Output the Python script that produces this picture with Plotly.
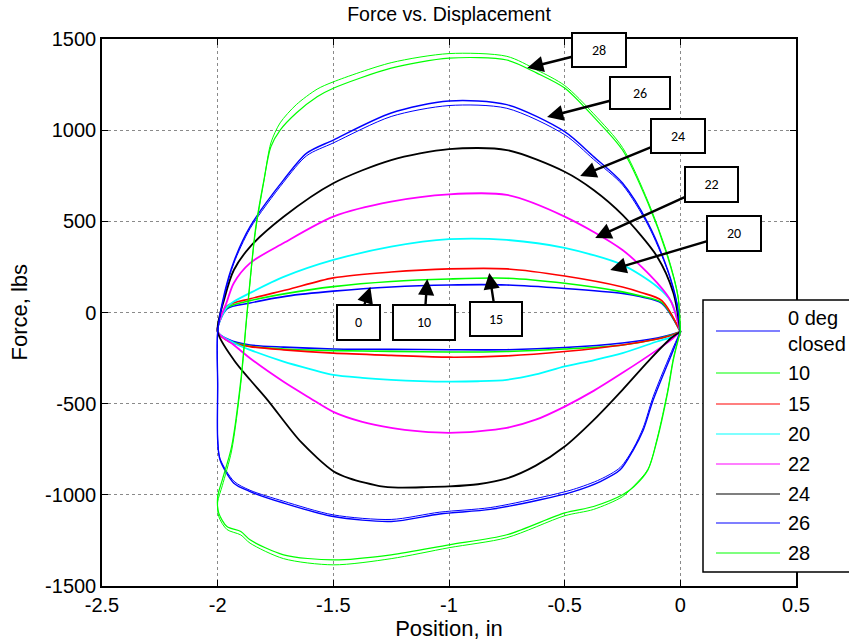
import plotly.graph_objects as go

# ---------------------------------------------------------------------------
# Force-displacement loops (position in inches, force in lbs)
# Each loop: loading branch (left -> right) then return branch (right -> left)
# ---------------------------------------------------------------------------
series_names = ["0 deg<br>closed", "10", "15", "20", "22", "24", "26", "28"]
series_colors = ["#0000ff", "#00ff00", "#ff0000", "#00ffff",
                 "#ff00ff", "#000000", "#0000ff", "#00ff00"]

pos_up_small = [-2, -1.96, -1.86, -1.7, -1.5, -1.25, -1, -0.75, -0.5, -0.25, -0.17, -0.08, 0]
pos_dn_small = [0, -0.05, -0.1, -0.25, -0.5, -0.75, -1, -1.25, -1.5, -1.715, -1.86, -1.95, -2]

force_up_0 = [-105, 20, 52, 90, 117, 140, 151, 151, 132, 105, 86, 50, -105]
force_dn_0 = [-105, -125, -140, -167, -192, -204, -204, -202, -200, -190, -178, -150, -105]
force_up_10 = [-105, 25, 65, 105, 142, 170, 184, 188, 160, 113, 90, 55, -105]
force_dn_10 = [-105, -128, -145, -178, -200, -214, -217, -213, -209, -200, -185, -155, -105]
force_up_15 = [-105, 35, 75, 125, 190, 222, 239, 239, 200, 140, 110, 65, -105]
force_dn_15 = [-105, -130, -145, -178, -214, -238, -245, -235, -223, -205, -187, -160, -105]

pos_up_mid = [-2, -1.96, -1.93, -1.86, -1.715, -1.5, -1.25, -1, -0.75, -0.5, -0.25, -0.1, -0.04, 0]
force_up_20 = [-105, 30, 60, 107, 195, 288, 361, 402, 398, 354, 261, 141, 60, -105]
force_up_22 = [-105, 60, 162, 271, 381, 526, 608, 648, 645, 526, 343, 162, 60, -105]

pos_dn_mid = [0, -0.04, -0.1, -0.25, -0.375, -0.5, -0.625, -0.75, -0.875, -1, -1.125, -1.25, -1.375, -1.5, -1.6, -1.715, -1.86, -1.93, -2]
force_dn_20 = [-105, -135, -159, -223, -262, -296, -340, -369, -377, -379, -376, -369, -358, -342, -310, -269, -205, -167, -105]
force_dn_22 = [-105, -150, -205, -331, -430, -516, -588, -633, -652, -660, -652, -633, -600, -545, -470, -380, -251, -178, -105]

pos_up_24 = [-2, -1.97, -1.93, -1.86, -1.715, -1.5, -1.25, -1, -0.75, -0.5, -0.375, -0.25, -0.1, -0.03, 0]
force_up_24 = [-105, 80, 233, 360, 525, 709, 836, 896, 891, 772, 672, 535, 306, 107, -105]
pos_dn_24 = [0, -0.04, -0.14, -0.25, -0.375, -0.5, -0.625, -0.75, -0.875, -1, -1.1, -1.22, -1.3, -1.36, -1.43, -1.5, -1.64, -1.785, -1.86, -1.93, -2]
force_dn_24 = [-105, -140, -269, -424, -590, -735, -840, -910, -942, -954, -958, -960, -952, -935, -910, -870, -710, -479, -369, -260, -105]

pos_up_26 = [-2, -1.97, -1.93, -1.86, -1.715, -1.615, -1.5, -1.25, -1, -0.75, -0.5, -0.375, -0.25, -0.14, -0.055, -0.015, 0]
force_up_26 = [-105, 110, 280, 471, 727, 874, 946, 1094, 1160, 1140, 992, 855, 710, 490, 234, 53, -105]
force_up_26b = [-105, 100, 270, 460, 715, 860, 930, 1075, 1135, 1120, 975, 840, 700, 480, 230, 50, -105]
pos_dn_26 = [0, -0.03, -0.117, -0.16, -0.203, -0.26, -0.346, -0.462, -0.606, -0.822, -1.04, -1.25, -1.5, -1.715, -1.86, -1.93, -1.99, -2, -2, -2]
force_dn_26 = [-105, -205, -479, -644, -753, -863, -927, -982, -1027, -1080, -1105, -1146, -1119, -1045, -982, -936, -808, -700, -400, -105]
force_dn_26b = [-105, -190, -460, -630, -745, -850, -915, -970, -1015, -1070, -1095, -1135, -1110, -1035, -975, -925, -800, -690, -400, -105]

pos_up_28 = [-2.0, -1.98, -1.94, -1.90, -1.873, -1.837, -1.80, -1.77, -1.73, -1.66, -1.57, -1.5, -1.25, -1, -0.75, -0.62, -0.5, -0.375, -0.25, -0.14, -0.055, -0.01, 0]
force_up_28 = [-1010, -918, -737, -371, 0, 453, 727, 909, 1000, 1094, 1183, 1230, 1340, 1395, 1385, 1313, 1231, 1073, 891, 600, 306, 86, -105]
force_up_28b = [-1040, -950, -760, -390, -10, 440, 720, 930, 1040, 1140, 1225, 1265, 1370, 1420, 1405, 1330, 1245, 1090, 905, 610, 315, 90, -105]
pos_dn_28 = [0, -0.03, -0.055, -0.1, -0.14, -0.2, -0.25, -0.375, -0.5, -0.75, -1, -1.25, -1.5, -1.715, -1.86, -1.9, -1.96, -1.995, -2.0]
force_dn_28 = [-105, -260, -441, -698, -863, -954, -1000, -1064, -1099, -1219, -1274, -1329, -1357, -1329, -1247, -1201, -1174, -1100, -1010]
force_dn_28b = [-105, -250, -430, -690, -860, -950, -1010, -1080, -1115, -1235, -1290, -1350, -1384, -1350, -1265, -1220, -1190, -1120, -1040]

# (series index, loading x, loading y, return x, return y, line width)
loops = [
    (0, pos_up_small, force_up_0, pos_dn_small, force_dn_0, 1.6),
    (1, pos_up_small, force_up_10, pos_dn_small, force_dn_10, 1.6),
    (2, pos_up_small, force_up_15, pos_dn_small, force_dn_15, 1.6),
    (3, pos_up_mid, force_up_20, pos_dn_mid, force_dn_20, 1.8),
    (4, pos_up_mid, force_up_22, pos_dn_mid, force_dn_22, 1.8),
    (5, pos_up_24, force_up_24, pos_dn_24, force_dn_24, 1.8),
    (6, pos_up_26, force_up_26, pos_dn_26, force_dn_26, 1.4),
    (6, pos_up_26, force_up_26b, pos_dn_26, force_dn_26b, 1.0),
    (7, pos_up_28, force_up_28, pos_dn_28, force_dn_28, 1.2),
    (7, pos_up_28, force_up_28b, pos_dn_28, force_dn_28b, 1.0),
]

x_tick_vals = [-2.5, -2, -1.5, -1, -0.5, 0, 0.5]
x_tick_text = ["-2.5", "-2", "-1.5", "-1", "-0.5", "0", "0.5"]
y_tick_vals = [-1500, -1000, -500, 0, 500, 1000, 1500]
y_tick_text = ["-1500", "-1000", "-500", "0", "500", "1000", "1500"]

# Call-out boxes: label, arrow tip (x, y), box offset in px (dx, dy), box size (w, h)
callouts = [
    ("28", -0.662, 1341, 72, -18, 52, 32),
    ("26", -0.576, 1072, 93, -24, 58, 30),
    ("24", -0.433, 748, 98, -40, 52, 32),
    ("22", -0.368, 409, 116, -53, 51, 33),
    ("20", -0.303, 233, 124, -37, 52, 33),
    ("0", -1.34, 140, -12, 36, 41, 33),
    ("10", -1.094, 184, -3, 44, 60, 33),
    ("15", -0.826, 217, 7, 46, 50, 32),
]

W, H = 849, 642
ML, MR, MT, MB = 102, 53, 39, 56
PW, PH = W - ML - MR, H - MT - MB
FONT = "Liberation Sans, Arial, sans-serif"


def px_to_paper_x(px):
    return (px - ML) / PW


def py_to_paper_y(py):
    return (H - MB - py) / PH


fig = go.Figure()
for idx, ux, uy, dx_, dy_, lw in loops:
    fig.add_trace(go.Scatter(
        x=ux + dx_, y=uy + dy_, mode="lines",
        line=dict(color=series_colors[idx], width=lw, shape="spline", smoothing=0.8),
        showlegend=False, hoverinfo="skip",
    ))

annotations = []
for label, tx, ty, ox, oy, bw, bh in callouts:
    annotations.append(dict(
        x=tx, y=ty, xref="x", yref="y", ax=ox, ay=oy,
        text=label, showarrow=True, arrowhead=2, arrowsize=1.35, arrowwidth=2.4,
        arrowcolor="black", standoff=0, startstandoff=0,
        bgcolor="white", bordercolor="black", borderwidth=2, borderpad=0,
        width=bw, height=bh,
        font=dict(family="Carlito, Calibri, Open Sans, sans-serif", size=14, color="black"),
    ))

# Vertical axis title
annotations.append(dict(
    x=px_to_paper_x(19), y=0.5, xref="paper", yref="paper",
    text="Force, lbs", textangle=-90, showarrow=False,
    xanchor="center", yanchor="middle",
    font=dict(family=FONT, size=22, color="black"),
))

# Legend panel drawn in paper coordinates
shapes = [dict(
    type="rect", xref="paper", yref="paper",
    x0=px_to_paper_x(703), x1=px_to_paper_x(880),
    y0=py_to_paper_y(572), y1=py_to_paper_y(300),
    fillcolor="white", line=dict(color="black", width=1.5), layer="above",
)]
legend_rows = [331, 373, 404, 434, 464, 494, 523, 553]
for name, color, row in zip(series_names, series_colors, legend_rows):
    yp = py_to_paper_y(row)
    shapes.append(dict(
        type="line", xref="paper", yref="paper",
        x0=px_to_paper_x(716), x1=px_to_paper_x(780), y0=yp, y1=yp,
        line=dict(color=color, width=1.2), layer="above",
    ))
    annotations.append(dict(
        x=px_to_paper_x(786), y=yp, xref="paper", yref="paper",
        text=name, showarrow=False, xanchor="left", yanchor="middle", align="left",
        font=dict(family=FONT, size=20, color="black"),
    ))

axis_common = dict(
    showline=True, linecolor="black", linewidth=1.5, mirror="ticks",
    ticks="inside", ticklen=6, tickcolor="black", tickwidth=1,
    showgrid=True, gridcolor="#8a8a8a", griddash="dot", gridwidth=1,
    zeroline=False, tickfont=dict(family=FONT, size=20, color="black"),
)

fig.update_layout(
    width=W, height=H,
    margin=dict(l=ML, r=MR, t=MT, b=MB, autoexpand=False),
    paper_bgcolor="white", plot_bgcolor="white",
    title=dict(text="Force vs. Displacement", x=(ML + PW / 2) / W, xanchor="center",
               y=1 - 14 / H, yanchor="middle", yref="container",
               font=dict(family=FONT, size=19.5, color="black")),
    xaxis=dict(range=[-2.5, 0.5], tickvals=x_tick_vals, ticktext=x_tick_text,
               title=dict(text="Position, in", standoff=4,
                          font=dict(family=FONT, size=22, color="black")),
               **axis_common),
    yaxis=dict(range=[-1500, 1500], tickvals=y_tick_vals, ticktext=y_tick_text,
               **axis_common),
    showlegend=False,
    shapes=shapes,
    annotations=annotations,
)

fig.write_html("out.html")
